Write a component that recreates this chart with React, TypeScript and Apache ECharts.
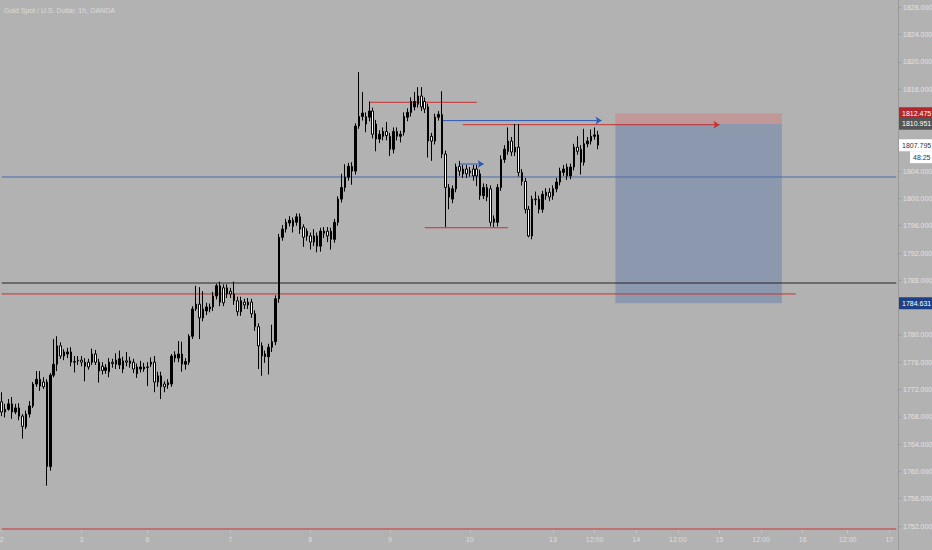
import React, { useEffect, useRef } from "react";
import * as echarts from "echarts";

// [open, close, low, high] – 1h bars, Gold Spot / USD
const ohlc: number[][] = [
  [1770.2, 1768.7, 1768.1, 1771.6], [1768.7, 1769.1, 1767.9, 1769.9], [1769.1, 1769.9, 1768.9, 1770.6],
  [1769.9, 1768.7, 1767.7, 1770.9], [1768.7, 1769.3, 1768.4, 1769.9], [1769.3, 1768.1, 1767.5, 1770.0],
  [1768.1, 1766.6, 1764.8, 1768.4], [1766.5, 1768.4, 1766.2, 1768.9], [1768.4, 1769.6, 1767.9, 1770.3],
  [1769.6, 1772.8, 1769.3, 1773.1], [1772.8, 1773.5, 1772.4, 1774.7], [1773.5, 1772.5, 1771.8, 1774.7],
  [1773.1, 1772.4, 1772.1, 1773.8], [1773.1, 1760.7, 1757.9, 1773.5], [1760.7, 1774.1, 1760.1, 1774.4],
  [1774.1, 1775.7, 1773.8, 1779.4], [1775.7, 1778.4, 1774.7, 1779.8], [1778.4, 1776.9, 1776.5, 1778.9],
  [1777.5, 1776.9, 1776.3, 1777.9], [1777.2, 1777.5, 1776.6, 1778.1], [1777.5, 1776.0, 1775.4, 1778.2],
  [1776.1, 1776.0, 1774.5, 1776.9], [1776.2, 1776.3, 1775.6, 1776.9], [1776.3, 1776.0, 1775.4, 1776.9],
  [1776.0, 1775.4, 1773.2, 1776.6], [1776.0, 1775.3, 1774.9, 1776.5], [1776.0, 1777.2, 1775.6, 1778.0],
  [1777.2, 1776.0, 1775.6, 1777.8], [1776.0, 1774.7, 1773.0, 1776.5], [1775.4, 1774.8, 1774.2, 1776.0],
  [1774.8, 1775.2, 1774.3, 1775.7], [1774.6, 1776.0, 1773.8, 1776.6], [1776.0, 1775.8, 1775.2, 1776.5],
  [1775.7, 1776.3, 1775.0, 1777.3], [1775.6, 1776.5, 1775.0, 1777.7], [1776.2, 1775.0, 1774.4, 1776.8],
  [1776.2, 1776.0, 1775.4, 1777.5], [1776.2, 1775.8, 1775.2, 1776.8], [1776.0, 1775.0, 1774.4, 1776.5],
  [1774.3, 1775.3, 1773.7, 1775.8], [1775.0, 1775.3, 1774.5, 1776.2], [1775.3, 1775.0, 1774.6, 1775.9],
  [1775.3, 1775.2, 1772.5, 1776.0], [1775.7, 1776.0, 1775.3, 1776.7], [1776.0, 1773.1, 1771.6, 1776.9],
  [1773.1, 1774.0, 1772.4, 1774.6], [1774.0, 1772.4, 1770.6, 1774.6], [1772.8, 1772.4, 1771.6, 1773.2],
  [1772.7, 1773.0, 1772.1, 1773.5], [1772.8, 1776.9, 1772.4, 1777.2], [1777.1, 1776.6, 1776.0, 1777.6],
  [1776.6, 1777.2, 1776.0, 1779.1], [1777.2, 1775.7, 1774.6, 1779.0], [1775.7, 1776.1, 1774.9, 1776.6],
  [1776.0, 1779.8, 1775.6, 1780.1], [1779.8, 1783.8, 1779.4, 1784.2], [1783.8, 1784.5, 1783.5, 1787.2],
  [1784.5, 1782.5, 1779.4, 1787.0], [1782.5, 1783.8, 1782.0, 1786.4], [1783.5, 1784.1, 1782.9, 1784.7],
  [1783.8, 1784.1, 1783.3, 1784.6], [1784.1, 1785.7, 1783.5, 1786.3], [1785.7, 1787.2, 1785.2, 1787.5],
  [1787.2, 1784.8, 1784.2, 1787.8], [1786.9, 1784.7, 1784.2, 1787.4], [1786.9, 1786.0, 1785.4, 1787.4],
  [1786.4, 1786.0, 1785.4, 1786.9], [1786.0, 1785.0, 1784.4, 1787.8], [1785.0, 1783.4, 1782.8, 1785.6],
  [1783.4, 1785.0, 1782.8, 1785.6], [1784.8, 1784.4, 1783.8, 1785.3], [1784.4, 1784.8, 1783.8, 1785.4],
  [1784.8, 1783.1, 1782.5, 1785.3], [1783.1, 1781.2, 1780.6, 1783.6], [1781.2, 1778.4, 1775.0, 1781.7],
  [1778.4, 1776.9, 1774.0, 1778.9], [1777.2, 1776.8, 1775.9, 1777.7], [1776.8, 1778.2, 1774.2, 1778.7],
  [1778.2, 1779.0, 1777.5, 1781.5], [1779.0, 1785.3, 1778.5, 1785.8], [1785.3, 1794.3, 1784.7, 1794.8],
  [1794.3, 1795.5, 1793.8, 1796.1], [1795.5, 1796.5, 1795.0, 1797.0], [1796.4, 1796.8, 1795.9, 1797.4],
  [1796.8, 1795.9, 1795.0, 1797.2], [1796.5, 1797.3, 1796.0, 1797.8], [1797.3, 1795.5, 1794.8, 1797.8],
  [1795.8, 1794.3, 1792.9, 1796.2], [1794.5, 1795.2, 1793.8, 1795.6], [1794.5, 1793.6, 1792.5, 1795.0],
  [1793.6, 1794.5, 1793.0, 1795.5], [1794.5, 1793.0, 1792.1, 1795.0], [1793.0, 1795.2, 1792.2, 1795.7],
  [1794.9, 1795.2, 1794.2, 1795.8], [1795.2, 1794.5, 1793.6, 1795.8], [1795.2, 1794.0, 1792.5, 1795.7],
  [1794.0, 1796.5, 1793.5, 1797.0], [1796.5, 1799.9, 1796.0, 1800.3], [1799.9, 1801.6, 1799.4, 1803.6],
  [1801.6, 1803.1, 1801.0, 1805.0], [1803.1, 1804.7, 1802.6, 1805.2], [1804.7, 1804.0, 1802.0, 1805.3],
  [1804.0, 1810.6, 1803.5, 1811.0], [1810.6, 1812.0, 1810.2, 1818.5], [1812.0, 1812.5, 1811.4, 1815.6],
  [1812.0, 1810.9, 1809.7, 1812.6], [1811.9, 1812.8, 1811.3, 1814.2], [1812.8, 1809.4, 1808.8, 1813.3],
  [1810.9, 1808.7, 1806.9, 1811.5], [1808.7, 1809.4, 1808.1, 1810.0], [1809.1, 1809.8, 1808.5, 1810.4],
  [1809.8, 1809.2, 1808.5, 1811.2], [1809.1, 1807.2, 1806.2, 1809.6], [1807.2, 1809.8, 1806.6, 1810.4],
  [1809.8, 1809.1, 1808.5, 1810.4], [1809.1, 1809.4, 1808.2, 1809.9], [1809.7, 1812.0, 1809.2, 1812.6],
  [1811.9, 1812.6, 1811.3, 1813.2], [1812.6, 1814.2, 1812.0, 1814.8], [1813.4, 1814.2, 1812.9, 1815.6],
  [1813.8, 1815.0, 1813.3, 1816.3], [1815.0, 1813.4, 1812.8, 1816.3], [1814.2, 1813.1, 1812.5, 1814.8],
  [1813.4, 1808.4, 1806.0, 1813.9], [1809.1, 1808.4, 1805.5, 1809.6], [1808.4, 1811.9, 1807.9, 1812.4],
  [1811.9, 1812.3, 1811.4, 1812.8], [1812.3, 1806.5, 1805.9, 1815.7], [1806.5, 1801.6, 1795.8, 1807.0],
  [1801.6, 1800.2, 1798.4, 1802.1], [1799.9, 1801.4, 1799.3, 1801.9], [1801.4, 1804.6, 1800.9, 1805.1],
  [1804.7, 1804.0, 1803.3, 1805.5], [1803.6, 1804.3, 1803.0, 1804.9], [1804.3, 1803.6, 1803.0, 1804.9],
  [1803.8, 1804.0, 1803.2, 1804.6], [1804.3, 1803.3, 1802.6, 1804.9], [1804.3, 1803.3, 1801.8, 1804.9],
  [1803.6, 1800.4, 1799.8, 1804.2], [1800.4, 1801.6, 1799.9, 1802.2], [1801.6, 1800.2, 1799.6, 1802.1],
  [1801.4, 1796.5, 1795.9, 1801.9], [1797.0, 1796.5, 1795.8, 1797.5], [1796.5, 1801.6, 1795.9, 1802.1],
  [1801.6, 1805.7, 1801.1, 1806.3], [1805.7, 1807.2, 1805.2, 1807.8], [1806.9, 1808.4, 1806.4, 1810.4],
  [1808.4, 1806.8, 1806.2, 1809.0], [1806.8, 1807.5, 1806.2, 1810.9], [1807.5, 1803.8, 1803.2, 1810.9],
  [1803.8, 1802.5, 1801.9, 1804.3], [1802.5, 1798.4, 1797.8, 1803.0], [1798.4, 1794.5, 1794.3, 1798.9],
  [1794.5, 1799.9, 1794.0, 1800.4], [1799.9, 1799.8, 1799.0, 1801.0], [1799.9, 1798.4, 1797.8, 1800.4],
  [1798.4, 1800.6, 1797.9, 1801.1], [1800.4, 1800.9, 1799.8, 1801.5], [1800.9, 1800.2, 1799.6, 1801.5],
  [1800.4, 1801.4, 1799.8, 1801.9], [1801.4, 1802.4, 1800.9, 1803.0], [1802.4, 1804.0, 1801.9, 1804.5],
  [1803.8, 1804.3, 1803.3, 1804.9], [1804.6, 1803.3, 1802.7, 1805.1], [1803.3, 1804.6, 1802.8, 1805.1],
  [1804.6, 1807.5, 1804.1, 1808.0], [1807.5, 1806.9, 1806.4, 1809.1], [1807.2, 1805.3, 1803.5, 1807.8],
  [1805.3, 1808.0, 1804.8, 1810.2], [1808.0, 1808.4, 1807.5, 1809.0], [1808.4, 1809.1, 1807.9, 1810.1],
  [1809.1, 1809.3, 1808.6, 1810.4], [1809.3, 1807.795, 1807.2, 1809.9],
];

// hourly slots including the empty future area on the right
const totalSlots = 259;
const categories: string[] = Array.from({ length: totalSlots }, (_, i) => String(i));

// time-scale labels: [slot index, label]
const timeTicks: [number, string][] = [
  [0, "2"], [23, "3"], [42, "6"], [66, "7"], [89, "8"], [112, "9"], [135, "10"],
  [159, "13"], [171, "12:00"], [183, "14"], [195, "12:00"], [207, "15"], [219, "12:00"],
  [231, "16"], [244, "12:00"], [256, "17"],
];

// price-scale labels hidden behind the price tags
const hiddenPriceLabels = [1784, 1808, 1812];

// horizontal drawings: [fromSlot, toSlot, price]
const blueLevel: [number, number, number] = [0, 258, 1803.14];
const blackLevel: [number, number, number] = [0, 258, 1787.6];
const bottomRedLevel: [number, number, number] = [0, 258, 1751.56];
const redLevel: [number, number, number] = [0, 229, 1786.0];
const topRedLine: [number, number, number] = [106, 137, 1814.08];
const bottomRedLine: [number, number, number] = [122, 146, 1795.7];
const blueArrow: [number, number, number] = [127, 173, 1811.4];
const redArrow: [number, number, number] = [133, 207, 1810.8];
const smallBlueArrow: [number, number, number] = [132, 139, 1805.04];

// short position tool
const positionFrom = 177;
const positionTo = 225;
const stopPrice = 1812.475;
const entryPrice = 1810.951;
const targetPrice = 1784.631;
const lastPrice = 1807.795;
const countdown = "48:25";

const FONT = "'Liberation Sans Narrow', 'Liberation Sans', Arial, sans-serif";
const RED = "#c8302f";
const BLUE = "#2c58b8";

const tickMap: Record<number, string> = {};
timeTicks.forEach(([i, l]) => (tickMap[i] = l));

function drawing(s: [number, number, number], color: string, arrow: boolean) {
  return {
    type: "line",
    xAxisIndex: 0,
    yAxisIndex: 0,
    silent: true,
    showSymbol: true,
    showAllSymbol: true,
    symbol: "none",
    z: 3,
    lineStyle: { color, width: 1, type: "solid", opacity: 1 },
    itemStyle: { color, opacity: 1 },
    data: [
      { value: [s[0], s[2]], symbol: "none" },
      arrow
        ? { value: [s[1], s[2]], symbol: "arrow", symbolSize: [6, 6], symbolRotate: -90, itemStyle: { color } }
        : { value: [s[1], s[2]], symbol: "none" },
    ],
  };
}

function tag(value: number, text: string, bg: string, fg: string, offset?: number[]) {
  return {
    yAxis: value,
    symbol: "none",
    lineStyle: { color: "rgba(0,0,0,0)", width: 0, opacity: 1 },
    label: {
      show: true,
      position: "end",
      distance: 1,
      opacity: 1,
      formatter: text,
      backgroundColor: bg,
      color: fg,
      fontSize: 7,
      fontFamily: FONT,
      padding: [3, 2, 2, 3],
      offset: offset || [0, 0],
    },
  };
}

export default function App() {
  const ref = useRef<HTMLDivElement>(null);
  useEffect(() => {
    if (!ref.current) return;
    const chart = echarts.init(ref.current, undefined, { renderer: "svg" });
    const option: any = {
      animation: false,
      backgroundColor: "#b2b2b2",
      title: {
        text: "Gold Spot / U.S. Dollar, 1h, OANDA",
        left: 4,
        top: 7,
        padding: 0,
        textStyle: { fontSize: 7, color: "#dcdcdc", fontWeight: "normal", fontFamily: FONT },
      },
      grid: [
        { left: 0, right: 34, top: -20, height: 573.3, outerBoundsMode: "none", containLabel: false },
        { left: 0, right: 34, top: 528, height: 2, outerBoundsMode: "none", containLabel: false },
      ],
      xAxis: [
        { type: "category", data: categories, gridIndex: 0, boundaryGap: true, show: false },
        {
          type: "category",
          data: categories,
          gridIndex: 1,
          boundaryGap: true,
          axisLine: { show: false },
          axisTick: {
            show: true,
            alignWithLabel: true,
            length: 3,
            interval: (i: number) => tickMap[i] !== undefined,
            lineStyle: { color: "#c8c8c8" },
          },
          axisLabel: {
            interval: (i: number) => tickMap[i] !== undefined,
            formatter: (_v: string, i: number) => tickMap[i] || "",
            color: "#dedede",
            fontSize: 7,
            fontFamily: FONT,
            margin: 6,
          },
          splitLine: { show: false },
        },
      ],
      yAxis: [
        {
          type: "value",
          gridIndex: 0,
          position: "right",
          min: 1748,
          max: 1832,
          interval: 4,
          axisLine: { show: true, lineStyle: { color: "#9a9a9a" } },
          axisTick: { show: true, length: 3, lineStyle: { color: "#9a9a9a" } },
          axisLabel: {
            showMinLabel: false,
            showMaxLabel: false,
            formatter: (v: number) => (hiddenPriceLabels.includes(v) ? "" : v.toFixed(3)),
            color: "#e2e2e2",
            fontSize: 7,
            fontFamily: FONT,
            margin: 5,
          },
          splitLine: { show: false },
        },
        { type: "value", gridIndex: 1, show: false },
      ],
      series: [
        drawing(blueLevel, "#4a6cab", false),
        drawing(blackLevel, "#262626", false),
        drawing(bottomRedLevel, RED, false),
        drawing(redLevel, RED, false),
        drawing(topRedLine, RED, false),
        drawing(bottomRedLine, RED, false),
        drawing(blueArrow, BLUE, true),
        drawing(redArrow, RED, true),
        drawing(smallBlueArrow, BLUE, true),
        {
          type: "candlestick",
          xAxisIndex: 0,
          yAxisIndex: 0,
          data: ohlc,
          clip: false,
          z: 4,
          barWidth: 2,
          itemStyle: {
            color: "#000000",
            color0: "#ffffff",
            borderColor: "#000000",
            borderColor0: "#000000",
            borderWidth: 1,
          },
          markArea: {
            silent: true,
            z: 1,
            data: [
              [{ coord: [positionFrom, stopPrice], itemStyle: { color: "#c29797" } }, { coord: [positionTo, entryPrice] }],
              [{ coord: [positionFrom, entryPrice], itemStyle: { color: "#8c98ad" } }, { coord: [positionTo, targetPrice] }],
            ],
          },
          markLine: {
            silent: true,
            symbol: ["none", "none"],
            z: 10,
            data: [
              tag(stopPrice, String(stopPrice), "#b3262c", "#ffffff"),
              tag(entryPrice, String(entryPrice), "#555555", "#ffffff"),
              tag(lastPrice, String(lastPrice), "#ffffff", "#333333"),
              tag(lastPrice, countdown, "#ffffff", "#333333", [11, 12]),
              tag(targetPrice, String(targetPrice), "#1d3f86", "#ffffff"),
            ],
          },
        },
      ],
    };
    chart.setOption(option);
    return () => chart.dispose();
  }, []);
  return (
    <div
      ref={ref}
      style={{ position: "fixed", left: 0, top: 0, width: 932, height: 550 }}
    />
  );
}
